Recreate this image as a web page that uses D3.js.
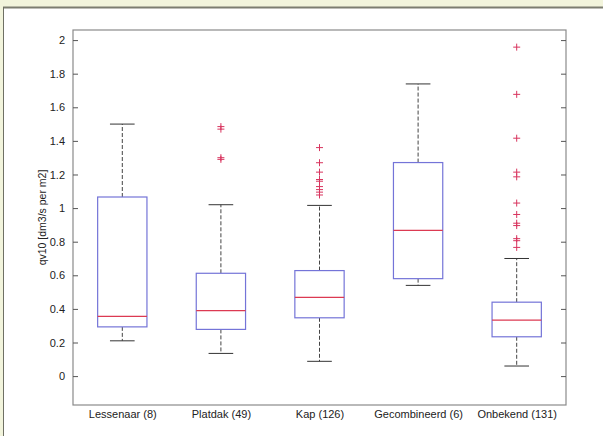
<!DOCTYPE html>
<html>
<head>
<meta charset="utf-8">
<script src="https://cdn.jsdelivr.net/npm/d3@7"></script>
<style>
  body { margin: 0; background: #f2f4dc; }
  svg { display: block; font-family: "Liberation Sans", Arial, sans-serif; }
</style>
</head>
<body>
<div id="chart"></div>
<script>

var categories = ["Lessenaar (8)", "Platdak (49)", "Kap (126)", "Gecombineerd (6)", "Onbekend (131)"]

var whiskerLow = [0.21, 0.135, 0.088, 0.54, 0.06]
var q1 = [0.293, 0.278, 0.347, 0.58, 0.234]
var median = [0.355, 0.39, 0.469, 0.867, 0.333]
var q3 = [1.066, 0.612, 0.628, 1.271, 0.44]
var whiskerHigh = [1.5, 1.02, 1.016, 1.739, 0.7]

var outliers = [
    [],
    [1.485, 1.47, 1.30, 1.29],
    [1.36, 1.27, 1.214, 1.17, 1.16, 1.128, 1.11, 1.095, 1.078],
    [],
    [1.958, 1.677, 1.416, 1.214, 1.186, 1.03, 0.962, 0.91, 0.896, 0.818, 0.806, 0.766]
]

var yTicks = [0, 0.2, 0.4, 0.6, 0.8, 1, 1.2, 1.4, 1.6, 1.8, 2]

var yLabel = "qv10 [dm3/s per m2]"

var width = 603, height = 436

var svg = d3.select("#chart").append("svg")
    .attr("width", width)
    .attr("height", height)

// frame around the figure
svg.append("rect")
    .attr("x", 4).attr("y", 8)
    .attr("width", width - 4).attr("height", height - 8)
    .attr("fill", "#ffffff")

svg.append("line")
    .attr("x1", 3).attr("x2", width)
    .attr("y1", 7.5).attr("y2", 7.5)
    .attr("stroke", "#7c7d70").attr("stroke-width", 2)

svg.append("line")
    .attr("x1", 3.5).attr("x2", 3.5)
    .attr("y1", 7).attr("y2", height)
    .attr("stroke", "#6f7064").attr("stroke-width", 1)

var plot = { left: 73, right: 566, top: 30, bottom: 405 }

var x = d3.scaleLinear()
    .domain([0.5, categories.length + 0.5])
    .range([plot.left, plot.right])

var y = d3.scaleLinear()
    .domain([-0.172, 2.06])
    .range([plot.bottom, plot.top])

// axes box
svg.append("rect")
    .attr("x", plot.left).attr("y", plot.top)
    .attr("width", plot.right - plot.left)
    .attr("height", plot.bottom - plot.top)
    .attr("fill", "none")
    .attr("stroke", "#8a8a8a")
    .attr("stroke-width", 1.2)

// y ticks, pointing inward on both sides
var yAxisLeft = d3.axisLeft(y).tickValues(yTicks).tickSize(-5).tickPadding(8)
    .tickFormat(d => String(+d.toFixed(1)))

var gl = svg.append("g")
    .attr("transform", "translate(" + plot.left + ",0)")
    .call(yAxisLeft)

gl.select(".domain").remove()
gl.selectAll("line").attr("stroke", "#555")
gl.selectAll("text").attr("font-size", 11).attr("fill", "#222")

var gr = svg.append("g")
    .attr("transform", "translate(" + plot.right + ",0)")
    .call(d3.axisRight(y).tickValues(yTicks).tickSize(-5).tickFormat(""))

gr.select(".domain").remove()
gr.selectAll("line").attr("stroke", "#555")

// x labels
var gx = svg.append("g")
    .attr("transform", "translate(0," + plot.bottom + ")")
    .call(d3.axisBottom(x).tickValues(d3.range(1, categories.length + 1)).tickSize(0).tickPadding(5)
        .tickFormat((d, i) => categories[i]))

gx.select(".domain").remove()
gx.selectAll("text").attr("font-size", 11).attr("fill", "#222")

svg.append("text")
    .attr("transform", "translate(46," + ((plot.top + plot.bottom) / 2) + ") rotate(-90)")
    .attr("text-anchor", "middle")
    .attr("font-size", 10.5)
    .attr("fill", "#222")
    .text(yLabel)

var boxW = x(1.25) - x(1)
var capW = x(1.125) - x(1)

var groups = svg.selectAll(".box")
    .data(categories)
    .enter().append("g")
    .attr("class", "box")

// dashed whiskers
groups.append("line")
    .attr("x1", (d, i) => x(i + 1)).attr("x2", (d, i) => x(i + 1))
    .attr("y1", (d, i) => y(q3[i])).attr("y2", (d, i) => y(whiskerHigh[i]))
    .attr("stroke", "#444").attr("stroke-dasharray", "4 2")

groups.append("line")
    .attr("x1", (d, i) => x(i + 1)).attr("x2", (d, i) => x(i + 1))
    .attr("y1", (d, i) => y(q1[i])).attr("y2", (d, i) => y(whiskerLow[i]))
    .attr("stroke", "#444").attr("stroke-dasharray", "4 2")

// caps
groups.append("line")
    .attr("x1", (d, i) => x(i + 1) - capW).attr("x2", (d, i) => x(i + 1) + capW)
    .attr("y1", (d, i) => y(whiskerHigh[i])).attr("y2", (d, i) => y(whiskerHigh[i]))
    .attr("stroke", "#333")

groups.append("line")
    .attr("x1", (d, i) => x(i + 1) - capW).attr("x2", (d, i) => x(i + 1) + capW)
    .attr("y1", (d, i) => y(whiskerLow[i])).attr("y2", (d, i) => y(whiskerLow[i]))
    .attr("stroke", "#333")

// box
groups.append("rect")
    .attr("x", (d, i) => x(i + 1) - boxW)
    .attr("width", 2 * boxW)
    .attr("y", (d, i) => y(q3[i]))
    .attr("height", (d, i) => y(q1[i]) - y(q3[i]))
    .attr("fill", "#ffffff")
    .attr("stroke", "#7474d8")
    .attr("stroke-width", 1.2)

// median
groups.append("line")
    .attr("x1", (d, i) => x(i + 1) - boxW).attr("x2", (d, i) => x(i + 1) + boxW)
    .attr("y1", (d, i) => y(median[i])).attr("y2", (d, i) => y(median[i]))
    .attr("stroke", "#dc3a52").attr("stroke-width", 1.2)

// outliers as plus marks
var pts = []
outliers.forEach(function(list, i) {
    list.forEach(v => pts.push({ c: i + 1, v: v }))
})

var plus = d3.symbol().type(d3.symbolCross).size(1)

svg.selectAll(".out")
    .data(pts)
    .enter().append("path")
    .attr("class", "out")
    .attr("d", d => "M-3.5,0H3.5M0,-3.5V3.5")
    .attr("transform", d => "translate(" + x(d.c) + "," + y(d.v) + ")")
    .attr("stroke", "#d8345e")
    .attr("stroke-width", 1)
    .attr("fill", "none")

</script>
</body>
</html>
